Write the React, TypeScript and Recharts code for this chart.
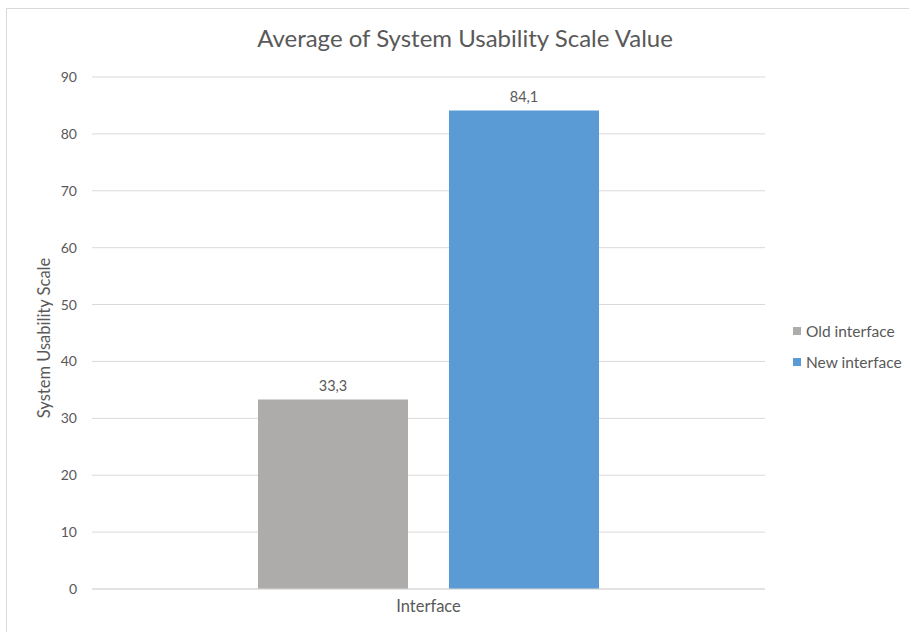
import React from 'react';
import { BarChart, Bar, XAxis, YAxis, CartesianGrid, Legend, LabelList } from 'recharts';

const categories = ['Interface'];
const oldValues = [33.3];
const newValues = [84.1];
const yTicks = [0, 10, 20, 30, 40, 50, 60, 70, 80, 90];
const seriesNames = ['Old interface', 'New interface'];
const seriesColors = ['#AEABAB', '#5B9BD5'];

const data = categories.map((c, i) => ({ name: c, old: oldValues[i], neu: newValues[i] }));

const FONT = 'Lato, "Open Sans", sans-serif';
const TEXT = '#595959';

const fmt = (v: number) => String(v).replace('.', ',');

const LegendContent = (props: any) => {
  const payload = [...(props.payload || [])].sort(
    (a: any, b: any) => seriesNames.indexOf(a.value) - seriesNames.indexOf(b.value)
  );
  return (
    <div style={{ fontFamily: FONT, fontSize: 15.5, color: TEXT }}>
      {payload.map((p: any, i: number) => (
        <div key={i} style={{ display: 'flex', alignItems: 'center', height: 31 }}>
          <span style={{ display: 'inline-block', width: 8, height: 8, background: p.color, marginRight: 5 }} />
          <span>{p.value}</span>
        </div>
      ))}
    </div>
  );
};

export default function App() {
  return (
    <div style={{ position: 'absolute', left: 0, top: 0, width: 909, height: 632, background: '#fff', fontFamily: FONT }}>
      <div style={{ position: 'absolute', left: 6, top: 8, width: 903, height: 624, borderLeft: '1px solid #D9D9D9', borderTop: '1px solid #D9D9D9' }} />
      <div style={{ position: 'absolute', left: 0, width: 930, top: 23, textAlign: 'center', fontSize: 24, color: TEXT, fontFamily: FONT }}>
        Average of System Usability Scale Value
      </div>
      <div style={{ position: 'absolute', left: 0, top: 0 }}>
        <BarChart width={909} height={632} data={data} margin={{ top: 77, right: 144, bottom: 13, left: 0 }} barSize={150} barGap={41}>
          <CartesianGrid vertical={false} stroke="#D9D9D9" />
          <XAxis
            dataKey="name"
            axisLine={{ stroke: '#D9D9D9' }}
            tickLine={false}
            tick={{ fill: TEXT, fontSize: 16.5, fontFamily: FONT }}
            tickMargin={5}
            height={30}
          />
          <YAxis
            width={92}
            domain={[0, 90]}
            ticks={yTicks}
            axisLine={false}
            tickLine={false}
            tickSize={0}
            tickMargin={15}
            tick={{ fill: TEXT, fontSize: 14, fontFamily: FONT }}
            label={{ value: 'System Usability Scale', angle: -90, position: 'insideLeft', dx: 39, dy: 5, style: { fill: TEXT, fontSize: 16.5, fontFamily: FONT, textAnchor: 'middle' } }}
          />
          <Legend
            layout="vertical"
            align="center"
            verticalAlign="middle"
            wrapperStyle={{ left: 793, top: 315, width: 'auto' }}
            content={<LegendContent />}
          />
          <Bar dataKey="old" name={seriesNames[0]} fill={seriesColors[0]} isAnimationActive={false}>
            <LabelList dataKey="old" position="top" offset={9} formatter={(v: any) => fmt(v)} style={{ fill: TEXT, fontSize: 14.5, fontFamily: FONT }} />
          </Bar>
          <Bar dataKey="neu" name={seriesNames[1]} fill={seriesColors[1]} isAnimationActive={false}>
            <LabelList dataKey="neu" position="top" offset={9} formatter={(v: any) => fmt(v)} style={{ fill: TEXT, fontSize: 14.5, fontFamily: FONT }} />
          </Bar>
        </BarChart>
      </div>
    </div>
  );
}
